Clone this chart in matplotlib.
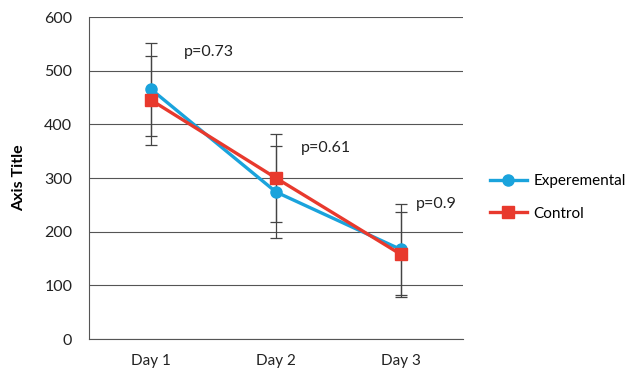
import matplotlib.pyplot as plt

days = ["Day 1", "Day 2", "Day 3"]
exp_vals = [465, 274, 167]
exp_err = [86, 85, 85]
ctrl_vals = [445, 300, 158]
ctrl_err = [83, 82, 79]
p_labels = ["p=0.73", "p=0.61", "p=0.9"]
p_pos = [(0.26, 535), (1.2, 356), (2.12, 251)]

plt.rcParams['font.family'] = ['Lato', 'DejaVu Sans']

fig = plt.figure(figsize=(6.29, 3.72), dpi=100)
ax = fig.add_axes([0.1415, 0.0887, 0.5945, 0.8655])

x = range(len(days))
blue = '#1aa3dc'
red = '#e8392d'

ax.errorbar(x, exp_vals, yerr=exp_err, fmt='none', ecolor='#444444',
            elinewidth=0.9, capsize=4, capthick=0.9, zorder=3)
ax.errorbar(x, ctrl_vals, yerr=ctrl_err, fmt='none', ecolor='#444444',
            elinewidth=0.9, capsize=4, capthick=0.9, zorder=3)
ax.plot(x, exp_vals, color=blue, lw=2.4, marker='o', ms=8,
        label='Experemental', zorder=4)
ax.plot(x, ctrl_vals, color=red, lw=2.4, marker='s', ms=8,
        label='Control', zorder=5)

for lab, (px, py) in zip(p_labels, p_pos):
    ax.text(px, py, lab, fontsize=11.5, color='#222222', va='center', ha='left')

ax.set_xlim(-0.5, 2.5)
ax.set_ylim(0, 600)
ax.set_yticks(range(0, 601, 100))
ax.set_xticks(list(x))
ax.set_xticklabels(days)
ax.yaxis.grid(True, color='#555555', lw=0.8)
ax.set_axisbelow(True)
for s in ['top', 'right']:
    ax.spines[s].set_visible(False)
for s in ['left', 'bottom']:
    ax.spines[s].set_color('#555555')
    ax.spines[s].set_linewidth(0.8)
ax.tick_params(length=0, labelsize=11.5, labelcolor='#222222')
ax.tick_params(axis='x', pad=11, labelsize=11)
ax.tick_params(axis='y', pad=12)
ax.set_ylabel('Axis Title', fontsize=11.5, fontweight='bold', labelpad=13)

ax.legend(loc='center left', bbox_to_anchor=(1.035, 0.44), frameon=False,
          fontsize=11, handlelength=2.45, handletextpad=0.4, labelspacing=1.2)

fig.savefig('out.png', dpi=100)
